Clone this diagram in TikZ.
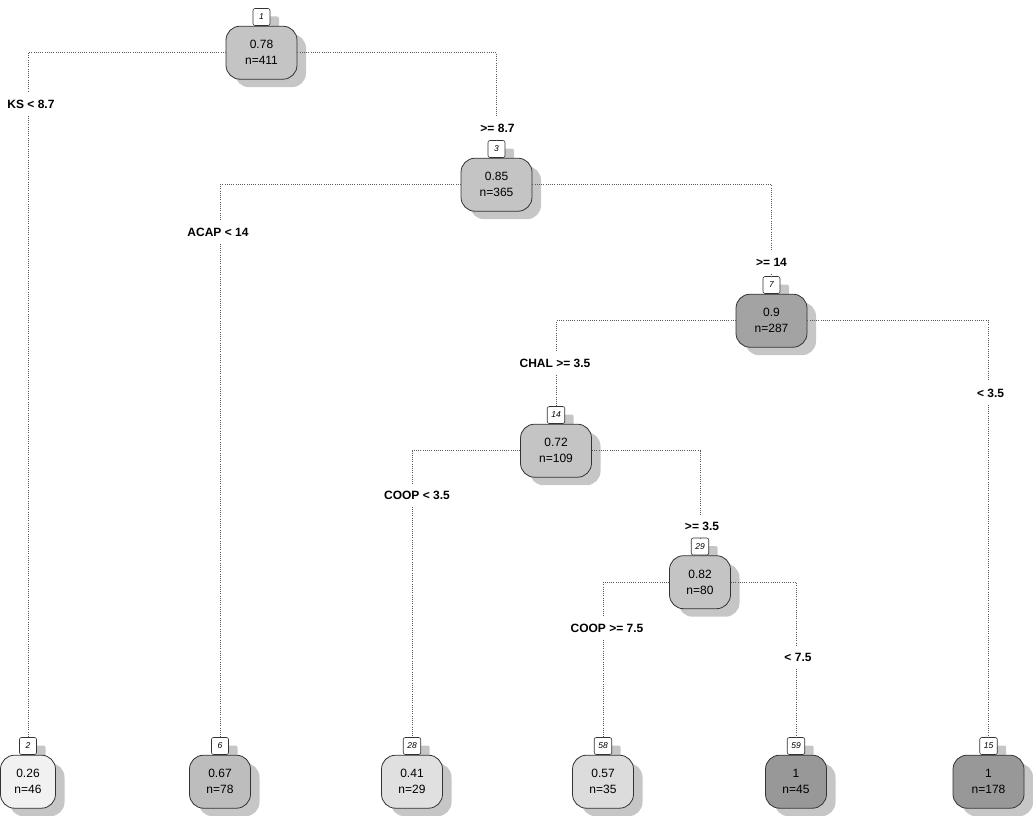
\documentclass[tikz,border=0pt]{standalone}
\usepackage{fontspec}
\setmainfont{Liberation Sans}
\usetikzlibrary{shadows}
\definecolor{shd}{HTML}{C6C6C6}
\definecolor{fA}{HTML}{F1F1F1}
\definecolor{fB}{HTML}{E0E0E0}
\definecolor{fC}{HTML}{DCDCDC}
\definecolor{fD}{HTML}{BDBDBD}
\definecolor{fE}{HTML}{C4C4C4}
\definecolor{fF}{HTML}{A3A3A3}
\definecolor{fG}{HTML}{989898}
\begin{document}
\begin{tikzpicture}[x=1pt,y=-1pt,
  sh/.style={drop shadow={shadow xshift=9pt,shadow yshift=-8pt,fill=shd,opacity=1}},
  box/.style={sh,draw=black!80,line width=0.8pt,rounded corners=14pt,minimum height=53pt,
    align=center,font=\fontsize{12}{16}\selectfont,inner sep=0pt,anchor=north,at=(#1.south)},
  wide/.style={minimum width=71pt},
  narrow/.style={minimum width=61pt},
  tag/.style={sh,draw=black!80,fill=white,line width=0.6pt,rounded corners=2pt,minimum width=17pt,minimum height=17pt,
    inner xsep=4pt,inner ysep=0pt,font=\fontsize{8.5}{9}\selectfont\itshape},
  lbl/.style={font=\bfseries\fontsize{12}{14}\selectfont,text height=8.6pt,text depth=0pt,
    inner ysep=7pt,inner xsep=2pt},
  edge/.style={draw=black!65,line width=0.6pt,dash pattern=on 0.7pt off 1.5pt}]
\useasboundingbox (0,0) rectangle (1033,816);

% inner nodes
\node[tag] (t1) at (261.5,17) {1};
\node[box=t1,wide,fill=fE] (b1) {0.78\\n=411};
\node[tag] (t3) at (496.5,149) {3};
\node[box=t3,wide,fill=fE] (b3) {0.85\\n=365};
\node[tag] (t7) at (771.5,285) {7};
\node[box=t7,wide,fill=fF] (b7) {0.9\\n=287};
\node[tag] (t14) at (556,415) {14};
\node[box=t14,wide,fill=fE] (b14) {0.72\\n=109};
\node[tag] (t29) at (700,546.5) {29};
\node[box=t29,narrow,fill=fE] (b29) {0.82\\n=80};

% leaves
\node[tag] (t2) at (28,746) {2};
\node[box=t2,minimum width=55pt,fill=fA] (b2) {0.26\\n=46};
\node[tag] (t6) at (220,746) {6};
\node[box=t6,narrow,fill=fD] (b6) {0.67\\n=78};
\node[tag] (t28) at (412,746) {28};
\node[box=t28,narrow,fill=fB] (b28) {0.41\\n=29};
\node[tag] (t58) at (603,746) {58};
\node[box=t58,narrow,fill=fC] (b58) {0.57\\n=35};
\node[tag] (t59) at (796,746) {59};
\node[box=t59,narrow,fill=fG] (b59) {1\\n=45};
\node[tag] (t15) at (988.5,746) {15};
\node[box=t15,wide,fill=fG] (b15) {1\\n=178};

% split labels
\node[lbl] (l2) at (31,104) {KS < 8.7};
\node[lbl] (l3) at (497.5,128) {>= 8.7};
\node[lbl] (l6) at (218,232) {ACAP < 14};
\node[lbl] (l7) at (771.5,262) {>= 14};
\node[lbl] (l14) at (555,363) {CHAL >= 3.5};
\node[lbl] (l15) at (990.5,393) {< 3.5};
\node[lbl] (l28) at (417,495) {COOP < 3.5};
\node[lbl] (l29) at (702,526) {>= 3.5};
\node[lbl] (l58) at (607,628) {COOP >= 7.5};
\node[lbl] (l59) at (798,657) {< 7.5};

% connectors
\draw[edge] (b1.west) -| (l2.north -| t2.north);  \draw[edge] (l2.south -| t2.north) -- (t2.north);
\draw[edge] (b1.east) -| (l3.north -| t3.north);  \draw[edge] (l3.south -| t3.north) -- (t3.north);
\draw[edge] (b3.west) -| (l6.north -| t6.north);  \draw[edge] (l6.south -| t6.north) -- (t6.north);
\draw[edge] (b3.east) -| (l7.north -| t7.north);  \draw[edge] (l7.south -| t7.north) -- (t7.north);
\draw[edge] (b7.west) -| (l14.north -| t14.north); \draw[edge] (l14.south -| t14.north) -- (t14.north);
\draw[edge] (b7.east) -| (l15.north -| t15.north); \draw[edge] (l15.south -| t15.north) -- (t15.north);
\draw[edge] (b14.west) -| (l28.north -| t28.north); \draw[edge] (l28.south -| t28.north) -- (t28.north);
\draw[edge] (b14.east) -| (l29.north -| t29.north); \draw[edge] (l29.south -| t29.north) -- (t29.north);
\draw[edge] (b29.west) -| (l58.north -| t58.north); \draw[edge] (l58.south -| t58.north) -- (t58.north);
\draw[edge] (b29.east) -| (l59.north -| t59.north); \draw[edge] (l59.south -| t59.north) -- (t59.north);
\end{tikzpicture}
\end{document}
